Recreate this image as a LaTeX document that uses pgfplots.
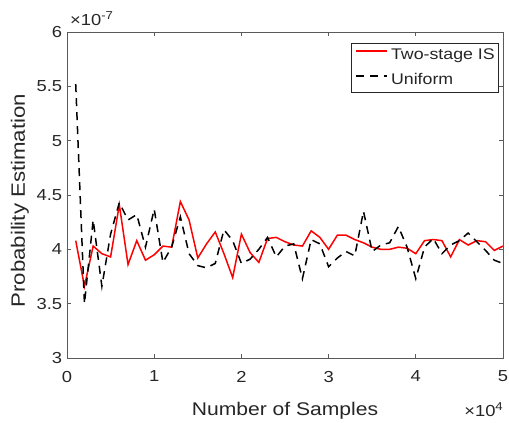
\documentclass[border=0pt]{standalone}
\usepackage{pgfplots}
\pgfplotsset{compat=1.18}
\usepackage{fontspec}
\setmainfont{Liberation Sans}[FakeStretch=1.15]
\definecolor{txt}{RGB}{38,38,38}
\definecolor{axc}{RGB}{90,90,90}
\begin{document}
\begin{tikzpicture}
\path[use as bounding box] (-67bp,-65bp) rectangle (442bp,358bp);
\begin{axis}[
  at={(0,0)}, anchor=south west,
  scale only axis, width=436bp, height=326bp,
  xmin=0, xmax=5, ymin=3, ymax=6,
  xtick={0,1,2,3,4,5}, ytick={3,3.5,4,4.5,5,5.5,6},
  scaled ticks=false,
  /pgf/number format/assume math mode=true,
  yticklabel style={/pgf/number format/fixed, /pgf/number format/precision=1, xshift=-1.4bp},
  xticklabel style={yshift=-9.4bp},
  tick align=inside, major tick length=4.4bp,
  axis line style={axc, line width=0.6bp},
  every tick/.style={axc, line width=0.6bp},
  tick label style={font=\fontsize{16}{16}\selectfont, text=txt},
  xlabel={Number of Samples},
  xlabel style={at={(axis description cs:0.5,0)}, anchor=base, yshift=-57bp, font=\fontsize{18.4}{18.4}\selectfont, text=txt},
  ylabel={Probability Estimation},
  ylabel style={at={([xshift=-42bp]axis description cs:0,0.4825)}, anchor=base, font=\fontsize{19.4}{19.4}\selectfont, text=txt},
  legend style={at={(0.9908,0.9663)}, anchor=north east, draw=txt, line width=0.5bp,
    fill=white, font=\fontsize{15.5}{15.5}\selectfont, text=txt,
    inner xsep=4bp, inner ysep=5bp, row sep=11bp,
    nodes={inner sep=0bp, text height=11bp, text depth=3bp}},
  legend cell align=left,
  legend image code/.code={\draw[#1, line width=1.5bp] (0bp,4bp) -- (31bp,4bp);},
  /tikz/every odd column/.append style={column sep=3bp},
  clip mode=individual,
]
\addplot[red, line width=1.5bp] coordinates {
(0.1,4.08) (0.2,3.66) (0.3,4.03) (0.4,3.96) (0.5,3.93) (0.6,4.41) (0.7,3.86) (0.8,4.08) (0.9,3.90) (1.0,3.95)
(1.1,4.03) (1.2,4.02) (1.3,4.44) (1.4,4.27) (1.5,3.92) (1.6,4.05) (1.7,4.16) (1.8,3.96) (1.9,3.74) (2.0,4.14)
(2.1,3.97) (2.2,3.88) (2.3,4.10) (2.4,4.11) (2.5,4.07) (2.6,4.04) (2.7,4.03) (2.8,4.17) (2.9,4.11) (3.0,4.00)
(3.1,4.13) (3.2,4.13) (3.3,4.09) (3.4,4.06) (3.5,4.02) (3.6,4.00) (3.7,4.00) (3.8,4.02) (3.9,4.01) (4.0,3.96)
(4.1,4.08) (4.2,4.09) (4.3,4.08) (4.4,3.93) (4.5,4.09) (4.6,4.04) (4.7,4.08) (4.8,4.07) (4.9,3.99) (5.0,4.03)
};
\addlegendentry{Two-stage IS\hspace{11bp}}
\addplot[black, line width=1.5bp, dash pattern=on 8bp off 6bp] coordinates {
(0.1,5.52) (0.2,3.50) (0.3,4.27) (0.4,3.66) (0.5,4.14) (0.6,4.43) (0.7,4.27) (0.8,4.32) (0.9,4.02) (1.0,4.37)
(1.1,3.88) (1.2,4.02) (1.3,4.30) (1.4,3.96) (1.5,3.85) (1.6,3.83) (1.7,3.87) (1.8,4.18) (1.9,4.08) (2.0,3.87)
(2.1,3.91) (2.2,4.00) (2.3,4.11) (2.4,3.93) (2.5,4.03) (2.6,4.05) (2.7,3.73) (2.8,4.09) (2.9,4.05) (3.0,3.84)
(3.1,3.92) (3.2,3.98) (3.3,3.94) (3.4,4.35) (3.5,3.98) (3.6,4.04) (3.7,4.06) (3.8,4.21) (3.9,4.02) (4.0,3.73)
(4.1,4.02) (4.2,4.10) (4.3,3.96) (4.4,4.04) (4.5,4.08) (4.6,4.15) (4.7,4.07) (4.8,3.99) (4.9,3.90) (5.0,3.87)
};
\addlegendentry{Uniform}
\node[anchor=base west, text=txt, font=\fontsize{16}{16}\selectfont, inner sep=0pt] at ([xshift=3bp,yshift=7bp]rel axis cs:0,1) {×10\raisebox{6bp}{\fontsize{11.5}{11.5}\selectfont -7}};
\node[anchor=base east, text=txt, font=\fontsize{16}{16}\selectfont, inner sep=0pt] at ([yshift=-58bp]rel axis cs:1,0) {×10\raisebox{6bp}{\fontsize{11.5}{11.5}\selectfont 4}};
\end{axis}
\end{tikzpicture}
\end{document}
